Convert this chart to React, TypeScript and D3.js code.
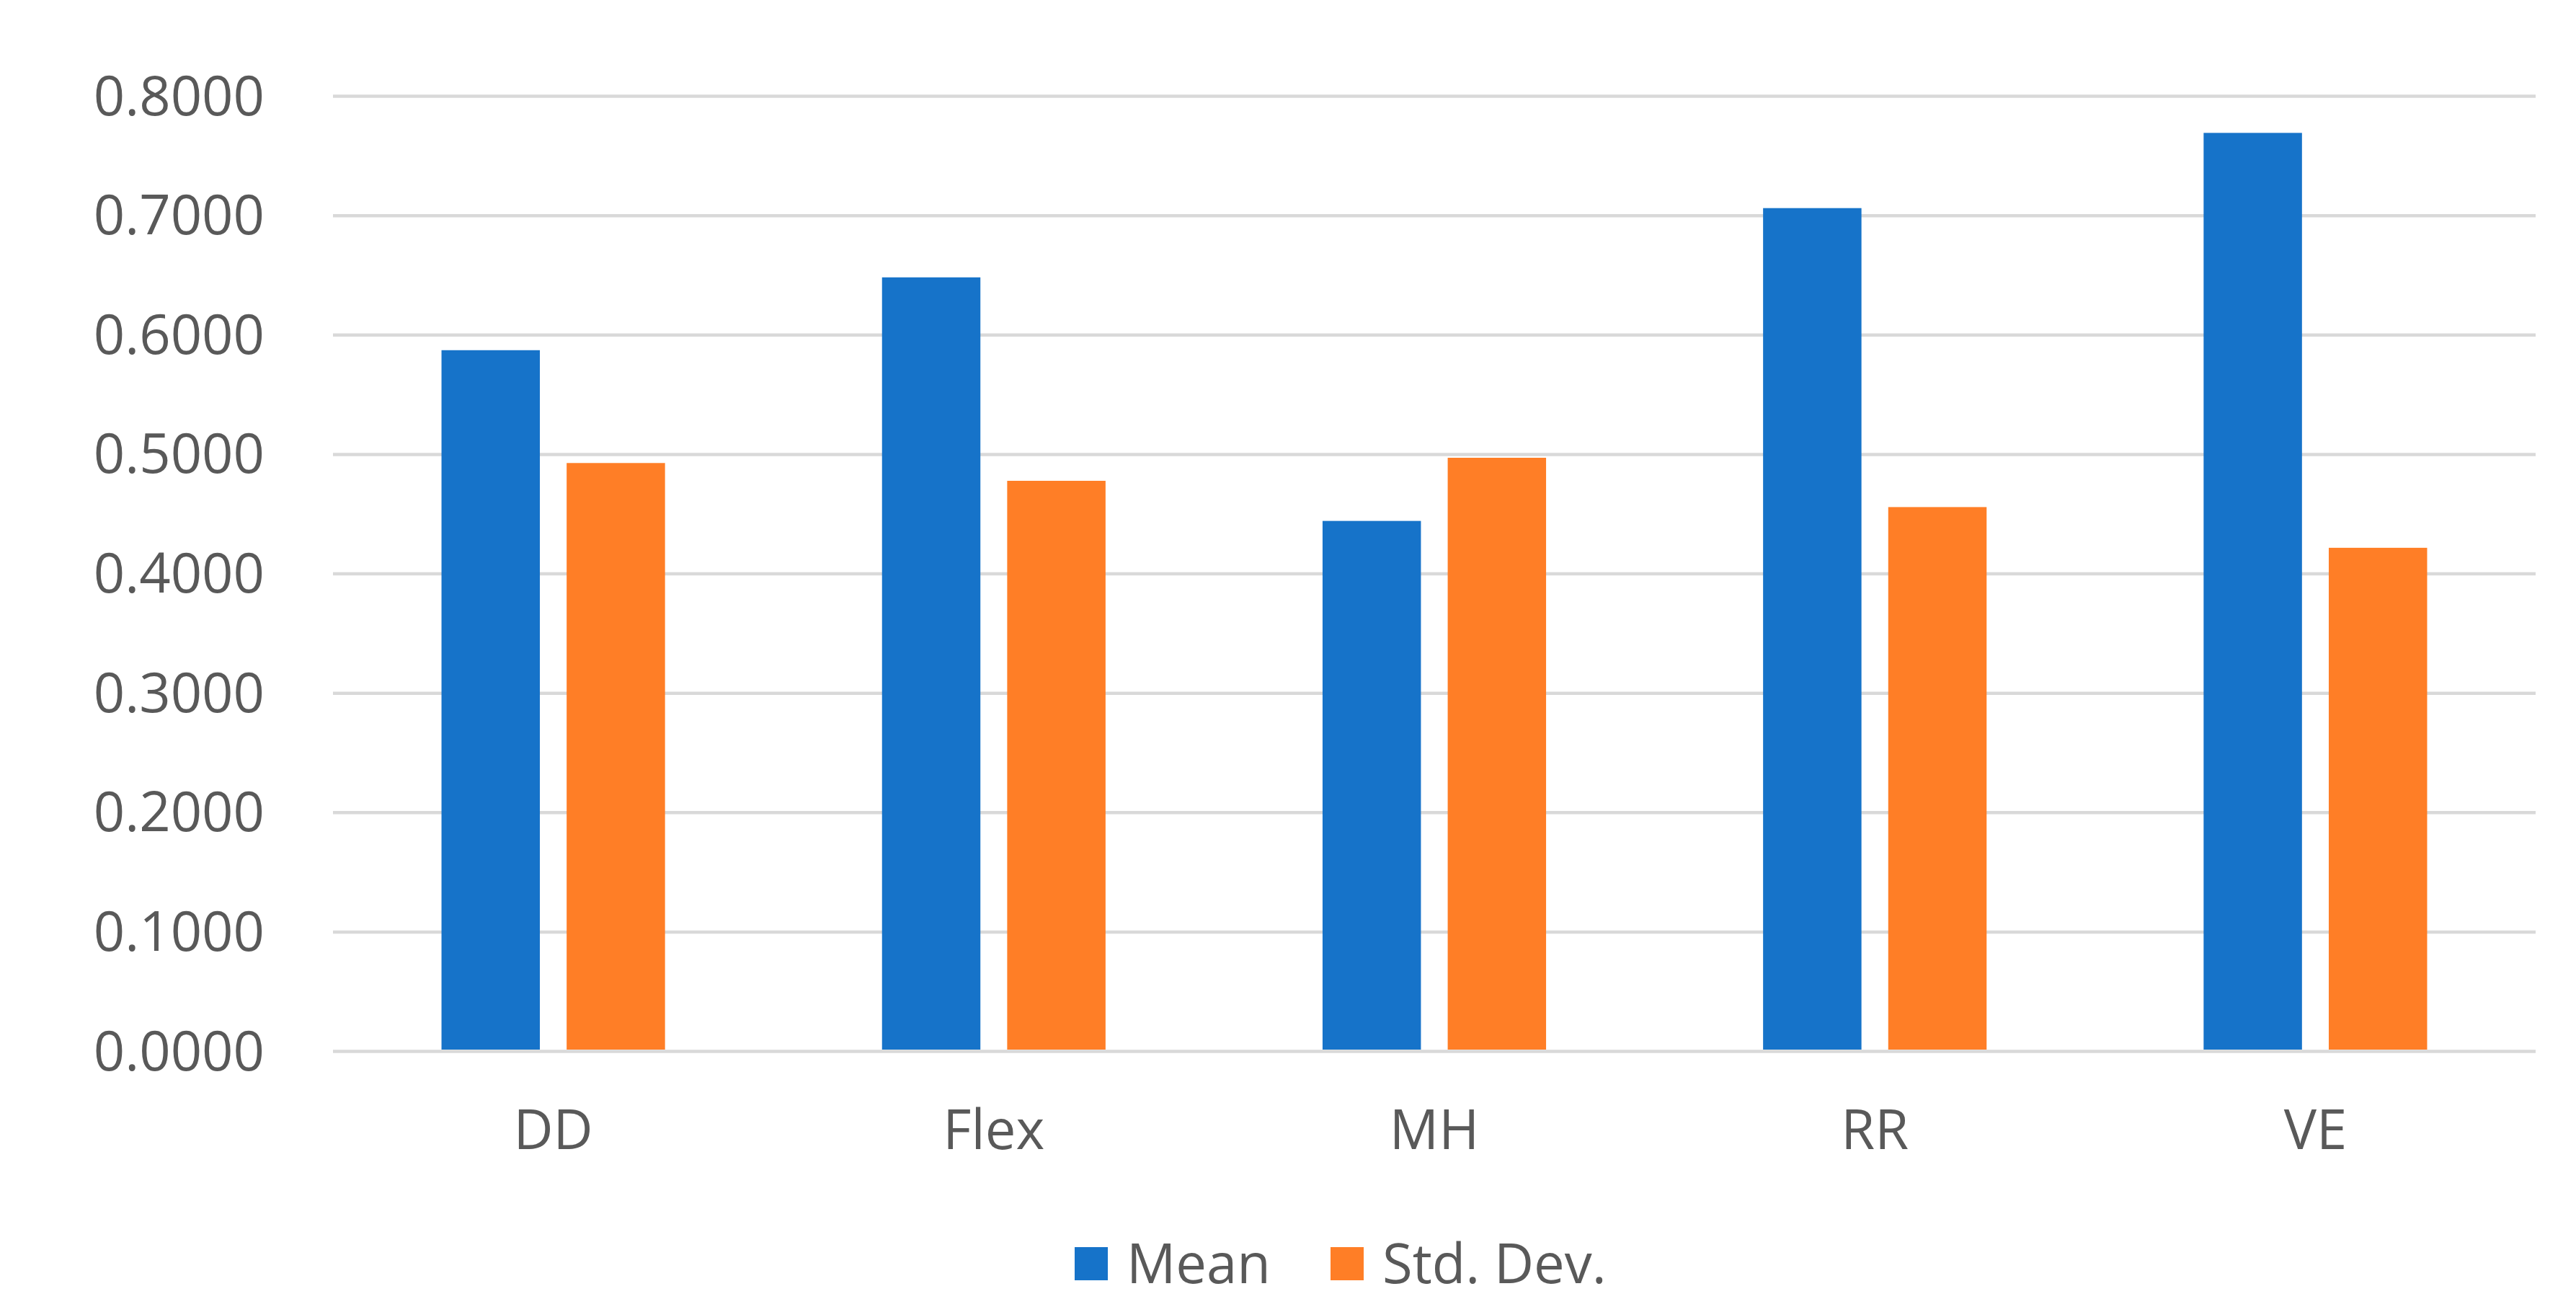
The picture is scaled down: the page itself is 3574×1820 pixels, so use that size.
import React, { useRef, useEffect } from 'react';
import * as d3 from 'd3';

const categories = ['DD', 'Flex', 'MH', 'RR', 'VE'];
const seriesNames = ['Mean', 'Std. Dev.'];
const meanValues = [0.587, 0.648, 0.444, 0.706, 0.769];
const stdValues = [0.4925, 0.4776, 0.4969, 0.4556, 0.4215];
const yTicks = [0, 0.1, 0.2, 0.3, 0.4, 0.5, 0.6, 0.7, 0.8];
const colors = ['#1673C9', '#FF7E26'];

const W = 3574;
const H = 1820;

const App: React.FC = () => {
  const svgRef = useRef<SVGSVGElement>(null);

  useEffect(() => {
    const svg = d3.select(svgRef.current);
    svg.selectAll('*').remove();

    const margin = { top: 133, right: 56, bottom: 362, left: 462 };
    const width = W - margin.left - margin.right;
    const height = H - margin.top - margin.bottom;
    const font = "'Open Sans', 'Noto Sans', sans-serif";

    svg.append('rect').attr('width', W).attr('height', H).attr('fill', '#ffffff');

    const g = svg.append('g').attr('transform', `translate(${margin.left},${margin.top})`);

    const x0 = d3.scaleBand().domain(categories).range([0, width]).padding(0);
    const x1 = d3.scaleBand()
      .domain(seriesNames)
      .range([0, x0.bandwidth()])
      .paddingInner(0.214)
      .paddingOuter(0.867);
    const y = d3.scaleLinear().domain([0, 0.8]).range([height, 0]);

    // gridlines
    g.append('g')
      .call(d3.axisLeft(y).tickValues(yTicks).tickSize(-width).tickFormat(() => ''))
      .call(s => s.select('.domain').remove())
      .selectAll('line')
      .attr('stroke', '#D9D9D9')
      .attr('stroke-width', 4.5);

    // y labels
    g.append('g')
      .selectAll('text')
      .data(yTicks)
      .enter().append('text')
      .attr('x', -95)
      .attr('y', d => y(d))
      .attr('dy', '0.35em')
      .attr('text-anchor', 'end')
      .style('font-family', font)
      .style('font-size', '76px')
      .style('fill', '#595959')
      .text(d => d.toFixed(4));

    const rows = categories.map((c, i) => ({ cat: c, vals: [meanValues[i], stdValues[i]] }));

    const groups = g.selectAll('.grp')
      .data(rows)
      .enter().append('g')
      .attr('transform', d => `translate(${x0(d.cat)},0)`);

    groups.selectAll('rect')
      .data(d => d.vals.map((v, j) => ({ name: seriesNames[j], v, j })))
      .enter().append('rect')
      .attr('x', d => x1(d.name)!)
      .attr('y', d => y(d.v))
      .attr('width', x1.bandwidth())
      .attr('height', d => y(0) - y(d.v) - 2)
      .attr('fill', d => colors[d.j]);

    // category labels
    g.append('g')
      .selectAll('text')
      .data(categories)
      .enter().append('text')
      .attr('x', d => x0(d)! + x0.bandwidth() / 2)
      .attr('y', height + 136)
      .attr('text-anchor', 'middle')
      .style('font-family', font)
      .style('font-size', '76px')
      .style('fill', '#595959')
      .text(d => d);

    // legend
    const legendItems = [
      { name: seriesNames[0], x: 1491, color: colors[0] },
      { name: seriesNames[1], x: 1846, color: colors[1] },
    ];
    const legend = svg.append('g').attr('transform', `translate(0,1753)`);
    legendItems.forEach(it => {
      legend.append('rect')
        .attr('x', it.x)
        .attr('y', -23)
        .attr('width', 46)
        .attr('height', 46)
        .attr('fill', it.color);
      legend.append('text')
        .attr('x', it.x + 72)
        .attr('y', 0)
        .attr('dy', '0.35em')
        .style('font-family', font)
        .style('font-size', '76px')
        .style('fill', '#595959')
        .text(it.name);
    });
  }, []);

  return (
    <svg
      ref={svgRef}
      width={W}
      height={H}
      style={{ position: 'absolute', left: 0, top: 0 }}
    />
  );
};

export default App;
